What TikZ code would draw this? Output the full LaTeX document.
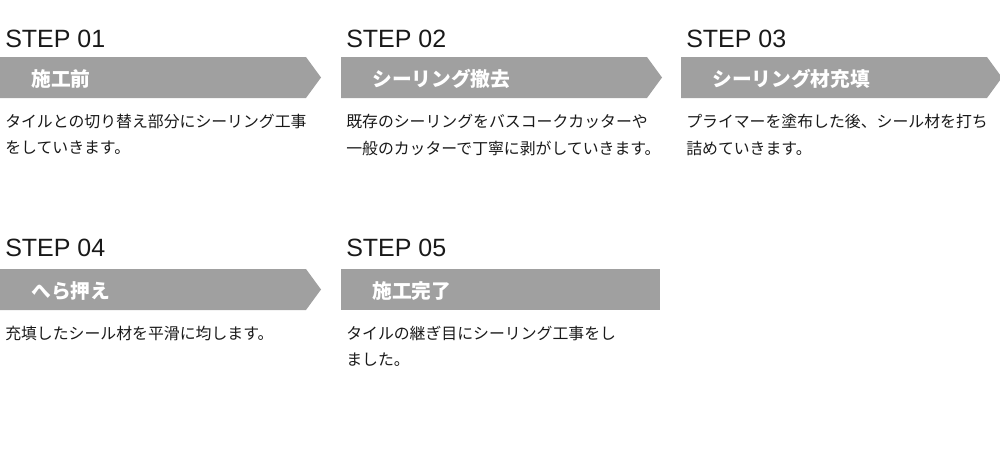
\documentclass[tikz,border=0pt]{standalone}
\usepackage{fontspec}
\setmainfont{Liberation Sans}
\newfontfamily\cjk{Noto Sans CJK JP}
\definecolor{boxgray}{RGB}{160,160,160}
\definecolor{txt}{RGB}{25,25,25}
\tikzset{
  steptitle/.style={anchor=base west, inner sep=0pt, font=\fontsize{18.75pt}{20pt}\selectfont, text=txt},
  arrowbox/.style={fill=boxgray, draw=none},
  boxlabel/.style={anchor=west, inner sep=0pt, font=\cjk\bfseries\fontsize{14.8pt}{16pt}\selectfont, text=white},
  desc/.style={anchor=west, inner sep=0pt, font=\cjk\fontsize{11.9pt}{14pt}\selectfont, text=txt},
}
\begin{document}
\begin{tikzpicture}[x=0.75pt,y=-0.75pt]
\useasboundingbox (0,0) rectangle (1000,450);
% ---------- row 1 ----------
\foreach \bx in {0,341,681}{
  \fill[arrowbox] (\bx,57) -- (\bx+306,57) -- (\bx+321,77.5) -- (\bx+306,98) -- (\bx,98) -- cycle;
}
\node[steptitle] (s1) at (5,47.7) {STEP 01};
\node[steptitle] (s2) at (346,47.7) {STEP 02};
\node[steptitle] (s3) at (686,47.7) {STEP 03};
\node[boxlabel] (l1) at (31,79) {施工前};
\node[boxlabel] (l2) at (372,79) {シーリング撤去};
\node[boxlabel] (l3) at (712,79) {シーリング材充填};
\node[desc] (d1a) at (5,121.5) {タイルとの切り替え部分にシーリング工事};
\node[desc] (d1b) at (5,148) {をしていきます。};
\node[desc] (d2a) at (346,121.5) {既存のシーリングをバスコークカッターや};
\node[desc] (d2b) at (346,148) {一般のカッターで丁寧に剥がしていきます。};
\node[desc] (d3a) at (686,121.5) {プライマーを塗布した後、シール材を打ち};
\node[desc] (d3b) at (686,148) {詰めていきます。};
% ---------- row 2 ----------
\fill[arrowbox] (0,269) -- (306,269) -- (321,289.5) -- (306,310) -- (0,310) -- cycle;
\fill[arrowbox] (341,269) rectangle (660,310);
\node[steptitle] (s4) at (5,256.7) {STEP 04};
\node[steptitle] (s5) at (346,256.7) {STEP 05};
\node[boxlabel] (l4) at (31,291) {へら押え};
\node[boxlabel] (l5) at (372,291) {施工完了};
\node[desc] (d4a) at (5,333) {充填したシール材を平滑に均します。};
\node[desc] (d5a) at (346,333) {タイルの継ぎ目にシーリング工事をし};
\node[desc] (d5b) at (346,359.5) {ました。};
\end{tikzpicture}
\end{document}
